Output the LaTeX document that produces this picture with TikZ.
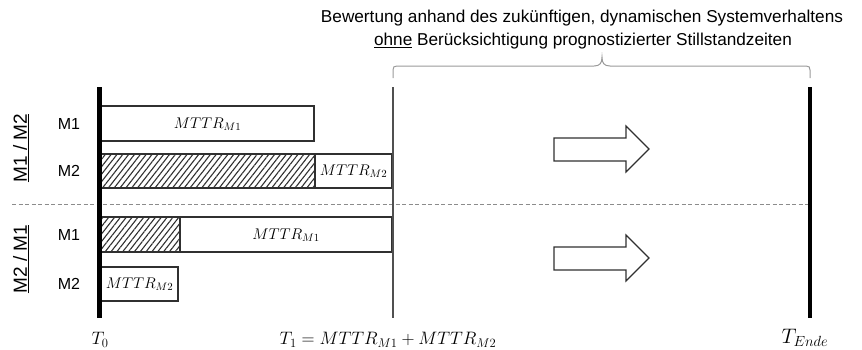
\RequirePackage{fix-cm}
\documentclass[tikz,border=0pt]{standalone}
\usepackage{fontspec}
\setmainfont{Liberation Sans}
\usetikzlibrary{patterns.meta}
\definecolor{barline}{HTML}{303030}
\definecolor{bracegray}{HTML}{9A9A9A}
\definecolor{dashgray}{HTML}{8C8C8C}
\definecolor{thingray}{HTML}{505050}
\tikzset{
  bar/.style={draw=barline, line width=1.1pt, fill=white},
  hatchbar/.style={draw=barline, line width=1.1pt,
    pattern={Lines[angle=52,distance=4.6pt,line width=1.1pt]}, pattern color=barline},
  barlabel/.style={inner sep=0pt, font=\fontsize{15.5}{17}\selectfont},
  rowlabel/.style={inner sep=0pt, font=\fontsize{16}{18}\selectfont},
  grouplabel/.style={inner sep=0pt, rotate=90, font=\fontsize{19}{21}\selectfont},
  timelabel/.style={inner sep=0pt, font=\fontsize{18}{20}\selectfont},
  toptext/.style={inner sep=0pt, font=\fontsize{17.2}{19}\selectfont},
  timeline/.style={line width=4.6pt, black},
  flowarrow/.style={draw=barline, line width=1.1pt, fill=white, line join=miter},
}
\begin{document}
\begin{tikzpicture}[x=1pt,y=-1pt]
\useasboundingbox (0,0) rectangle (862,349);

% time markers
\coordinate (t0top) at (99.5,87);
\coordinate (t0bot) at (99.5,318);
\coordinate (t1top) at (393,87);
\coordinate (t1bot) at (393,318);
\coordinate (tetop) at (810,87);
\coordinate (tebot) at (810,318);

% separator between both scenarios
\coordinate (sepl) at (12,204);
\coordinate (sepr) at (810,204);
\draw[dashgray, line width=0.9pt, dash pattern=on 4pt off 2.5pt] (sepl) -- (sepr);

% scenario M1 / M2
\draw[bar] (101,106) rectangle (314,141);
\node[barlabel] (a1) at (207.5,124) {$MTTR_{M1}$};
\draw[hatchbar] (101,154) rectangle (315,188);
\draw[bar] (315,154) rectangle (392,188);
\node[barlabel] (a2) at (353.5,171) {$MTTR_{M2}$};

% scenario M2 / M1
\draw[hatchbar] (101,217) rectangle (180,252);
\draw[bar] (180,217) rectangle (392,252);
\node[barlabel] (b1) at (286,235) {$MTTR_{M1}$};
\draw[bar] (101,267) rectangle (178,301);
\node[barlabel] (b2) at (139.5,284) {$MTTR_{M2}$};

% vertical time lines
\draw[thingray, line width=1.1pt] (t1top) -- (t1bot);
\draw[timeline] (t0top) -- (t0bot);
\draw[timeline] (tetop) -- (tebot);

% row and group labels
\node[rowlabel] (r1) at (69,124) {M1};
\node[rowlabel] (r2) at (69,171) {M2};
\node[rowlabel] (r3) at (69,235) {M1};
\node[rowlabel] (r4) at (69,284) {M2};
\node[grouplabel] (g1) at (21,148) {\underline{M1 / M2}};
\node[grouplabel] (g2) at (21,259) {\underline{M2 / M1}};

% outlook arrows
\draw[flowarrow] (554,138) -- (626,138) -- (626,126) -- (649,149) -- (626,172) -- (626,161) -- (554,161) -- cycle;
\draw[flowarrow] (554,247) -- (626,247) -- (626,235) -- (649,258) -- (626,281) -- (626,270) -- (554,270) -- cycle;

% brace over the future horizon
\coordinate (brl) at (393,78);
\coordinate (brr) at (810,78);
\coordinate (brtip) at (602,57);
\draw[bracegray, line width=1pt]
  (brl) -- (393,70) .. controls (393,67) and (394,66) .. (397,66)
  -- (594,66) .. controls (600,66) and (602,63) .. (brtip)
  .. controls (602,63) and (604,66) .. (610,66)
  -- (806,66) .. controls (809,66) and (810,67) .. (810,70) -- (brr);

% heading
\node[toptext] (h1) at (582,18) {Bewertung anhand des zukünftigen, dynamischen Systemverhaltens};
\node[toptext] (h2) at (583,41) {\underline{ohne} Berücksichtigung prognostizierter Stillstandzeiten};

% time labels
\node[timelabel] (l0) at (100,340) {$T_0$};
\node[timelabel] (l1) at (388,340) {$T_1 = MTTR_{M1} + MTTR_{M2}$};
\node[timelabel, font=\fontsize{21}{23}\selectfont] (le) at (805,338) {$T_{Ende}$};
\end{tikzpicture}
\end{document}
